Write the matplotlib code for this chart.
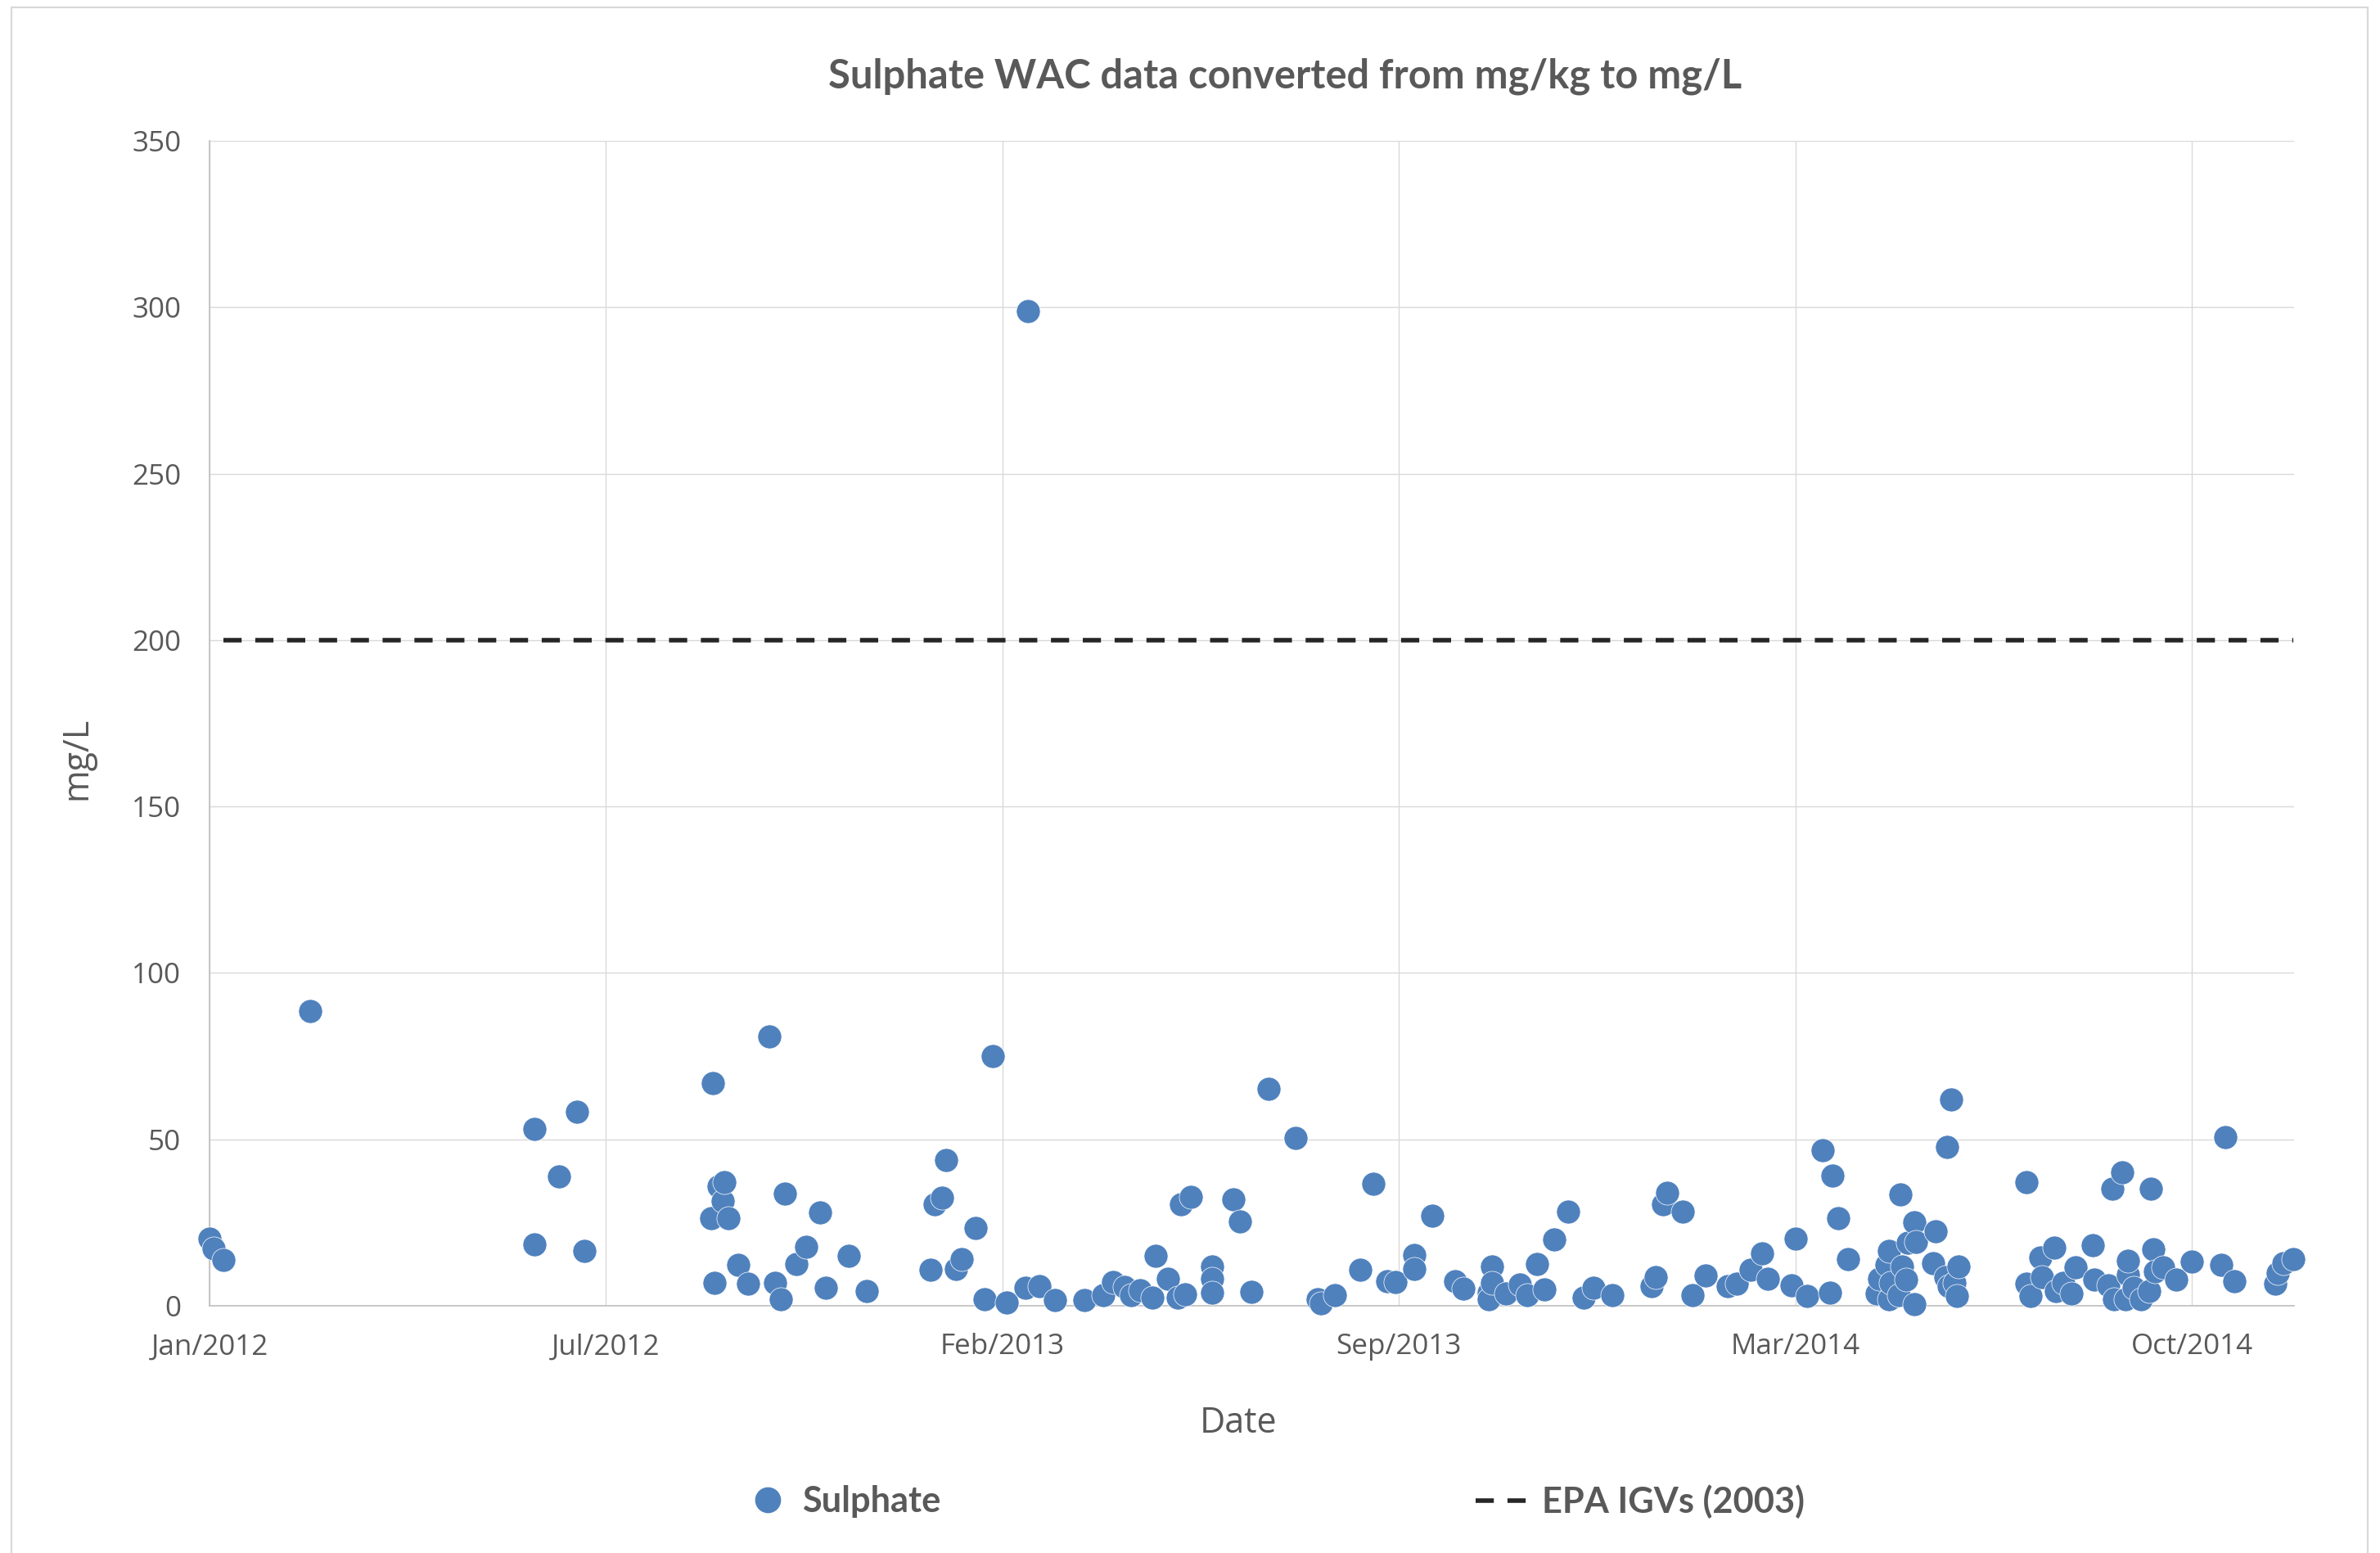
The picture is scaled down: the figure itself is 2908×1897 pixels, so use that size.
import matplotlib
matplotlib.use("Agg")
import matplotlib.pyplot as plt
from matplotlib.lines import Line2D
from matplotlib.patches import Rectangle
import pandas as pd

# Sulphate leachate results (WAC), converted to mg/L
sample_dates = [
    "2012-01-01", "2012-01-03", "2012-01-08", "2012-02-22", "2012-06-16", "2012-06-16",
    "2012-06-29", "2012-07-08", "2012-07-12", "2012-09-15", "2012-09-16", "2012-09-17",
    "2012-09-19", "2012-09-21", "2012-09-22", "2012-09-24", "2012-09-29", "2012-10-04",
    "2012-10-15", "2012-10-18", "2012-10-21", "2012-10-23", "2012-10-29", "2012-11-03",
    "2012-11-10", "2012-11-13", "2012-11-25", "2012-12-04", "2013-01-06", "2013-01-08",
    "2013-01-12", "2013-01-14", "2013-01-19", "2013-01-22", "2013-01-29", "2013-02-03",
    "2013-02-07", "2013-02-14", "2013-02-24", "2013-02-25", "2013-03-03", "2013-03-11",
    "2013-03-26", "2013-04-05", "2013-04-10", "2013-04-16", "2013-04-19", "2013-04-24",
    "2013-04-30", "2013-05-02", "2013-05-08", "2013-05-13", "2013-05-15", "2013-05-17",
    "2013-05-20", "2013-05-31", "2013-05-31", "2013-05-31", "2013-06-11", "2013-06-14",
    "2013-06-20", "2013-06-29", "2013-07-13", "2013-07-24", "2013-07-26", "2013-08-02",
    "2013-08-15", "2013-08-22", "2013-08-29", "2013-09-02", "2013-09-12", "2013-09-12",
    "2013-09-21", "2013-10-03", "2013-10-07", "2013-10-20", "2013-10-20", "2013-10-22",
    "2013-10-22", "2013-10-29", "2013-11-05", "2013-11-09", "2013-11-14", "2013-11-18",
    "2013-11-23", "2013-11-30", "2013-12-08", "2013-12-13", "2013-12-23", "2014-01-12",
    "2014-01-14", "2014-01-18", "2014-01-20", "2014-01-28", "2014-02-02", "2014-02-09",
    "2014-02-20", "2014-02-25", "2014-03-04", "2014-03-10", "2014-03-13", "2014-03-25",
    "2014-03-27", "2014-04-02", "2014-04-10", "2014-04-14", "2014-04-15", "2014-04-18",
    "2014-04-23", "2014-05-08", "2014-05-09", "2014-05-13", "2014-05-14", "2014-05-14",
    "2014-05-15", "2014-05-19", "2014-05-20", "2014-05-21", "2014-05-23", "2014-05-24",
    "2014-05-27", "2014-05-27", "2014-05-28", "2014-06-06", "2014-06-07", "2014-06-12",
    "2014-06-13", "2014-06-14", "2014-06-15", "2014-06-17", "2014-06-18", "2014-06-19",
    "2014-07-24", "2014-07-24", "2014-07-26", "2014-07-31", "2014-08-01", "2014-08-07",
    "2014-08-08", "2014-08-12", "2014-08-16", "2014-08-18", "2014-08-27", "2014-08-28",
    "2014-09-04", "2014-09-06", "2014-09-07", "2014-09-11", "2014-09-13", "2014-09-14",
    "2014-09-14", "2014-09-17", "2014-09-21", "2014-09-25", "2014-09-26", "2014-09-27",
    "2014-09-28", "2014-10-02", "2014-10-09", "2014-10-17", "2014-11-01", "2014-11-03",
    "2014-11-08", "2014-11-29", "2014-11-30", "2014-12-03", "2014-12-08",
]
sulphate_mg_l = [
    20.2, 17.2, 13.7, 88.5, 53.2, 18.4,
    38.8, 58.4, 16.6, 26.2, 67.0, 7.0,
    35.8, 31.6, 37.1, 26.2, 12.2, 6.7,
    80.8, 7.0, 2.0, 33.6, 12.5, 17.6,
    28.0, 5.5, 15.0, 4.5, 10.9, 30.6,
    32.5, 43.9, 11.1, 14.1, 23.4, 2.0,
    74.9, 1.1, 5.3, 298.8, 6.0, 1.8,
    1.6, 3.1, 7.2, 5.7, 3.1, 4.7,
    2.5, 14.9, 8.0, 2.5, 30.5, 3.5,
    32.8, 11.9, 8.0, 4.0, 32.0, 25.4,
    4.1, 65.2, 50.3, 2.0, 0.7, 3.2,
    10.8, 36.6, 7.3, 7.1, 15.2, 11.1,
    27.1, 7.5, 5.1, 4.0, 2.0, 11.9,
    6.8, 3.7, 6.4, 3.1, 12.5, 4.8,
    19.8, 28.4, 2.5, 5.3, 3.1, 6.0,
    8.6, 30.5, 33.9, 28.4, 3.3, 9.0,
    6.0, 6.6, 10.7, 15.7, 8.2, 6.1,
    20.2, 2.9, 46.7, 3.9, 39.1, 26.2,
    14.1, 3.7, 8.2, 12.3, 16.4, 2.0,
    7.0, 3.3, 33.4, 11.9, 7.8, 18.9,
    25.0, 0.4, 19.3, 12.9, 22.3, 8.6,
    47.8, 5.8, 61.9, 7.0, 2.9, 11.7,
    37.1, 6.6, 2.9, 14.4, 8.6, 17.4,
    4.5, 7.0, 3.7, 11.5, 18.3, 7.8,
    6.1, 35.1, 2.0, 40.2, 2.0, 9.4,
    13.5, 5.3, 2.0, 4.5, 35.1, 17.0,
    10.3, 11.5, 7.8, 13.3, 12.2, 50.6,
    7.4, 6.6, 9.8, 12.7, 13.9,
]

# EPA Interim Guideline Value for sulphate
igv_dates = ["2012-01-08", "2014-12-08"]
igv_values = [200, 200]

# Axis settings
x_start = "2012-01-01"
x_end = "2014-12-08 14:00"
x_tick_dates = ["2012-01-01", "2012-07-23", "2013-02-12", "2013-09-04", "2014-03-27", "2014-10-17"]
y_ticks = [0, 50, 100, 150, 200, 250, 300, 350]

TEXT = "#595959"
BLUE = "#4F81BD"
GRID = "#D9D9D9"

W, H = 2908, 1897
fig = plt.figure(figsize=(W / 200, H / 200), dpi=200)

# outer chart border
fig.patches.append(Rectangle((14 / W, -0.01), (2893 - 14) / W, 1 - 9 / H + 0.01,
                             transform=fig.transFigure, fill=False,
                             edgecolor=GRID, linewidth=0.8))

left, right, top, bottom = 256, 2803, 172, 1595
ax = fig.add_axes([left / W, 1 - bottom / H, (right - left) / W, (bottom - top) / H])

ax.scatter(pd.to_datetime(sample_dates), sulphate_mg_l, s=110, color=BLUE,
           edgecolors="white", linewidths=0.25, zorder=3, clip_on=False)
ax.plot(pd.to_datetime(igv_dates), igv_values, color="#262626", linewidth=2,
        dashes=(4, 3), zorder=2)

ax.set_xlim(pd.Timestamp(x_start), pd.Timestamp(x_end))
ax.set_ylim(0, 350)
ax.set_yticks(y_ticks)
tick_ts = pd.to_datetime(x_tick_dates)
ax.set_xticks(tick_ts)
ax.set_xticklabels([t.strftime("%b/%Y") for t in tick_ts])

ax.grid(True, color=GRID, linewidth=0.5, zorder=0)
ax.set_axisbelow(True)
for side in ("top", "right"):
    ax.spines[side].set_visible(False)
for side in ("left", "bottom"):
    ax.spines[side].set_color("#BFBFBF")
    ax.spines[side].set_linewidth(0.6)

ax.tick_params(axis="both", length=0, labelsize=12.6, labelcolor=TEXT)
ax.tick_params(axis="y", pad=12.5)
ax.tick_params(axis="x", pad=12)
for lab in ax.get_xticklabels() + ax.get_yticklabels():
    lab.set_family("Open Sans")

fig.text(1570 / W, 1 - 107 / H, "Sulphate WAC data converted from mg/kg to mg/L",
         ha="center", va="baseline", fontsize=17.6, fontweight="bold",
         family="Lato", color=TEXT)
fig.text(94 / W, 1 - 926 / H, "mg/L", rotation=90, ha="center", va="center",
         fontsize=15.5, family="Open Sans", color=TEXT)
fig.text(1513 / W, 1 - 1750 / H, "Date", ha="center", va="baseline",
         fontsize=15.5, family="Open Sans", color=TEXT)

leg_font = {"family": "Lato", "weight": "bold", "size": 15.6}
h1 = Line2D([], [], marker="o", linestyle="none", color=BLUE, markersize=10.4)
h2 = Line2D([], [], color="#262626", linewidth=2, dashes=(4, 3))
leg1 = fig.legend([h1], ["Sulphate"], loc="center left",
                  bbox_to_anchor=(906 / W, 1 - 1834 / H), frameon=False,
                  prop=leg_font, handlelength=1.48, handletextpad=0.23,
                  borderpad=0, borderaxespad=0, labelcolor=TEXT)
leg2 = fig.legend([h2], ["EPA IGVs (2003)"], loc="center left",
                  bbox_to_anchor=(1803 / W, 1 - 1834 / H), frameon=False,
                  prop=leg_font, handlelength=1.48, handletextpad=0.39,
                  borderpad=0, borderaxespad=0, labelcolor=TEXT)

fig.savefig("out.png", dpi=200, facecolor="white")
